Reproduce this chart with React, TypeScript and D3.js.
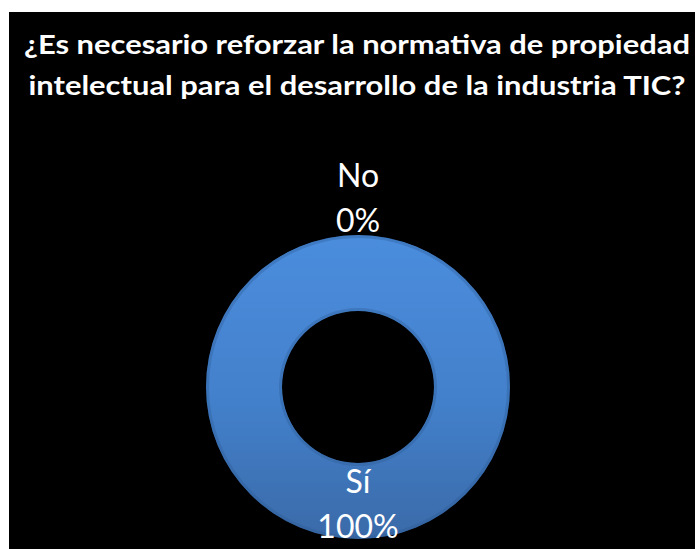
import React, { useEffect, useRef } from 'react';
import * as d3 from 'd3';

const titleLines = [
  '¿Es necesario reforzar la normativa de propiedad',
  'intelectual para el desarrollo de la industria TIC?',
];
const categories = ['Sí', 'No'];
const values = [100, 0];

type Slice = { name: string; value: number };

export default function App() {
  const ref = useRef<SVGSVGElement>(null);
  const width = 695;
  const height = 549;

  useEffect(() => {
    if (!ref.current) return;
    const svg = d3.select(ref.current);
    svg.selectAll('*').remove();

    svg.append('rect').attr('width', width).attr('height', height).attr('fill', '#fff');
    svg
      .append('rect')
      .attr('x', 9)
      .attr('y', 12)
      .attr('width', width - 9)
      .attr('height', height - 12)
      .attr('fill', '#000');

    const defs = svg.append('defs');
    const grad = defs
      .append('linearGradient')
      .attr('id', 'ringGrad')
      .attr('x1', 0)
      .attr('y1', 0)
      .attr('x2', 0)
      .attr('y2', 1);
    grad.append('stop').attr('offset', '0%').attr('stop-color', '#4b8ddd');
    grad.append('stop').attr('offset', '55%').attr('stop-color', '#4380cb');
    grad.append('stop').attr('offset', '100%').attr('stop-color', '#3a6aa8');

    const blur = defs.append('filter').attr('id', 'soft');
    blur.append('feGaussianBlur').attr('stdDeviation', 0.6);

    // title
    const widths = [666, 657];
    svg
      .append('g')
      .selectAll('text')
      .data(titleLines)
      .enter()
      .append('text')
      .attr('x', 357)
      .attr('y', (_, i) => 54 + i * 41)
      .attr('text-anchor', 'middle')
      .attr('font-family', 'Lato, "Open Sans", sans-serif')
      .attr('font-weight', 700)
      .attr('font-size', 27)
      .attr('fill', '#fff')
      .attr('textLength', (_, i) => widths[i])
      .attr('lengthAdjust', 'spacingAndGlyphs')
      .text(d => d);

    const data: Slice[] = categories.map((c, i) => ({ name: c, value: values[i] }));
    const cx = 358;
    const cy = 387;
    const outer = 152;
    const inner = 76;

    const pie = d3
      .pie<Slice>()
      .sort(null)
      .value(d => d.value);
    const arcs = pie(data);
    const arc = d3.arc<d3.PieArcDatum<Slice>>().innerRadius(inner).outerRadius(outer);

    const g = svg.append('g').attr('transform', `translate(${cx},${cy})`);

    g.selectAll('path.slice')
      .data(arcs)
      .enter()
      .append('path')
      .attr('class', 'slice')
      .attr('d', d => arc(d) as string)
      .attr('fill', 'url(#ringGrad)')
      .attr('filter', 'url(#soft)');

    // bevel edges
    g.append('circle')
      .attr('r', outer - 1.5)
      .attr('fill', 'none')
      .attr('stroke', '#2f5a92')
      .attr('stroke-opacity', 0.35)
      .attr('stroke-width', 3)
      .attr('filter', 'url(#soft)');
    g.append('circle')
      .attr('r', inner + 1.5)
      .attr('fill', 'none')
      .attr('stroke', '#2f5a92')
      .attr('stroke-opacity', 0.35)
      .attr('stroke-width', 3)
      .attr('filter', 'url(#soft)');

    // zero slices get their label outside the ring
    const outsideR = 192;
    const labelArc = d3
      .arc<d3.PieArcDatum<Slice>>()
      .innerRadius(d => (d.value > 0 ? inner : outsideR))
      .outerRadius(d => (d.value > 0 ? outer : outsideR));

    const labels = g
      .selectAll('g.label')
      .data(arcs)
      .enter()
      .append('g')
      .attr('class', 'label')
      .attr('transform', d => {
        const [x, y] = labelArc.centroid(d);
        return `translate(${x},${y})`;
      });

    const lineOffsets = [-8, 37];
    labels.each(function (d) {
      const lg = d3.select(this);
      const pct = `${Math.round((d.data.value / d3.sum(values)) * 100)}%`;
      [d.data.name, pct].forEach((t, i) => {
        lg.append('text')
          .attr('y', lineOffsets[i])
          .attr('text-anchor', 'middle')
          .attr('font-family', 'Lato, "Open Sans", sans-serif')
          .attr('font-size', 32)
          .attr('fill', '#fff')
          .text(t);
      });
    });
  }, []);

  return (
    <svg
      ref={ref}
      width={width}
      height={height}
      style={{ position: 'absolute', left: 0, top: 0, display: 'block' }}
    />
  );
}
